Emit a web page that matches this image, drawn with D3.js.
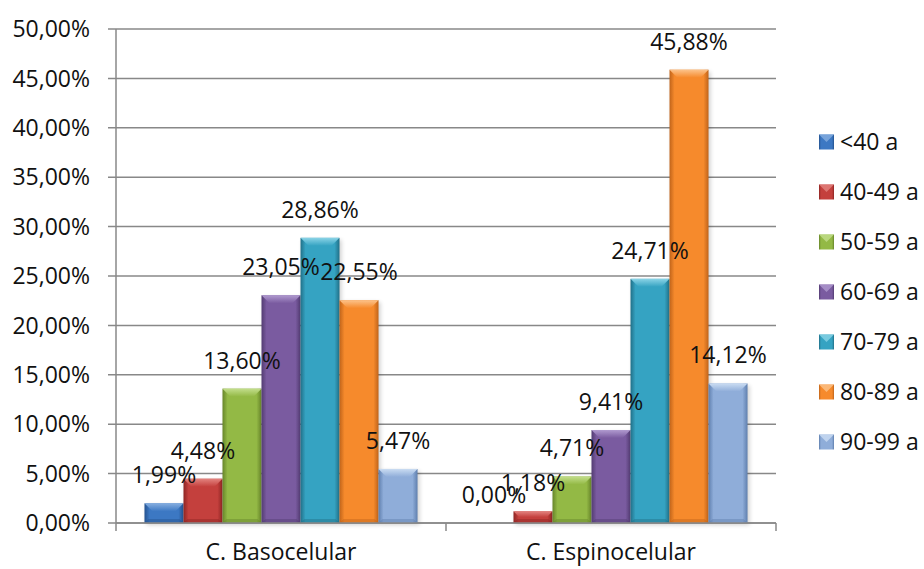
<!DOCTYPE html>
<html>
<head>
<meta charset="utf-8">
<script src="https://cdn.jsdelivr.net/npm/d3@7"></script>
<style>
  html, body { margin: 0; padding: 0; background: #fff; }
  svg { display: block; }
  text { font-family: "Open Sans", "DejaVu Sans", sans-serif; fill: #111; }
</style>
</head>
<body>
<svg id="chart" width="924" height="569"></svg>
<script>
// Tumour types on the category axis
const categories = ["C. Basocelular", "C. Espinocelular"];
// Age groups (one bar per group inside each category)
const ageGroups = ["<40 a", "40-49 a", "50-59 a", "60-69 a", "70-79 a", "80-89 a", "90-99 a"];
// Share of cases per age group, in percent
const basocelular    = [1.99, 4.48, 13.60, 23.05, 28.86, 22.55, 5.47];
const espinocelular  = [0.00, 1.18, 4.71, 9.41, 24.71, 45.88, 14.12];
// Value-axis ticks, in percent
const yTicks = [0, 5, 10, 15, 20, 25, 30, 35, 40, 45, 50];

// Fill palette per age group: edge shade, body, bevel highlight
const palette = [
  { dark: "#24528f", base: "#3c78c3", light: "#86aee0" },
  { dark: "#8e2523", base: "#c4403d", light: "#e3837f" },
  { dark: "#67852a", base: "#93b945", light: "#c3de8c" },
  { dark: "#533c72", base: "#7a5ba0", light: "#b09acf" },
  { dark: "#217088", base: "#35a3c2", light: "#8ad3e6" },
  { dark: "#c0641a", base: "#f68a2c", light: "#fcc38b" },
  { dark: "#5f7fae", base: "#8fadd9", light: "#cadcf2" }
];

const seriesByCategory = [basocelular, espinocelular];
const fmt = v => v.toFixed(2).replace(".", ",") + "%";

const svg = d3.select("#chart");
const defs = svg.append("defs");

const plot = { left: 116, right: 776, top: 29, bottom: 523 };

const y = d3.scaleLinear().domain([0, 50]).range([plot.bottom, plot.top]);
const x0 = d3.scaleBand().domain(categories).range([plot.left, plot.right]);
const x1 = d3.scaleBand().domain(ageGroups).range([0, x0.bandwidth()]).paddingOuter(0.73);

// Horizontal side-shading gradients for the bars
palette.forEach((p, i) => {
  const g = defs.append("linearGradient").attr("id", "bar" + i)
    .attr("x1", 0).attr("x2", 1).attr("y1", 0).attr("y2", 0);
  [[0, p.dark], [0.13, p.base], [0.5, p.base], [0.87, p.base], [1, p.dark]]
    .forEach(([o, c]) => g.append("stop").attr("offset", o).attr("stop-color", c));
  const t = defs.append("linearGradient").attr("id", "top" + i)
    .attr("x1", 0).attr("x2", 0).attr("y1", 0).attr("y2", 1);
  t.append("stop").attr("offset", 0).attr("stop-color", p.light);
  t.append("stop").attr("offset", 1).attr("stop-color", p.base);
});
const blur = defs.append("filter").attr("id", "shadow")
  .attr("x", "-20%").attr("y", "-20%").attr("width", "140%").attr("height", "140%");
blur.append("feGaussianBlur").attr("stdDeviation", 2);

// Gridlines + value axis
const grid = svg.append("g");
grid.selectAll("line").data(yTicks).join("line")
  .attr("x1", plot.left - 8).attr("x2", plot.right)
  .attr("y1", d => y(d)).attr("y2", d => y(d))
  .attr("stroke", "#888").attr("stroke-width", 1.5);

svg.append("g").selectAll("text").data(yTicks).join("text")
  .attr("x", 90).attr("y", d => y(d)).attr("dy", "0.36em")
  .attr("text-anchor", "end").attr("font-size", 23)
  .text(d => fmt(d));

// Bars
const groups = svg.append("g").selectAll("g").data(categories).join("g")
  .attr("transform", d => `translate(${x0(d)},0)`);

groups.each(function(cat, ci) {
  const g = d3.select(this);
  const vals = seriesByCategory[ci];
  ageGroups.forEach((ag, i) => {
    const v = vals[i];
    if (v <= 0) return;
    const bx = x1(ag), bw = x1.bandwidth();
    const top = y(v), h = plot.bottom - top;
    const bev = Math.min(8, h / 2);
    g.append("rect")
      .attr("x", bx + 2).attr("y", top + 2).attr("width", bw).attr("height", h)
      .attr("fill", "#000").attr("opacity", 0.18).attr("filter", "url(#shadow)");
    g.append("rect")
      .attr("x", bx).attr("y", top).attr("width", bw).attr("height", h)
      .attr("fill", `url(#bar${i})`);
    g.append("path")
      .attr("d", `M${bx},${top}L${bx + bw},${top}L${bx + bw - bev},${top + bev}L${bx + bev},${top + bev}Z`)
      .attr("fill", `url(#top${i})`);
    g.append("path")
      .attr("d", `M${bx},${plot.bottom}L${bx + bw},${plot.bottom}L${bx + bw - Math.min(4, h / 2)},${plot.bottom - Math.min(4, h / 2)}L${bx + Math.min(4, h / 2)},${plot.bottom - Math.min(4, h / 2)}Z`)
      .attr("fill", palette[i].dark).attr("opacity", 0.45);
  });
  // Value labels
  g.selectAll("text.val").data(vals).join("text")
    .attr("class", "val")
    .attr("x", (d, i) => x1(ageGroups[i]) + x1.bandwidth() / 2)
    .attr("y", d => y(d) - 20)
    .attr("text-anchor", "middle").attr("font-size", 23)
    .text(d => fmt(d));
});

// Axis lines and ticks
const axes = svg.append("g").attr("stroke", "#888").attr("stroke-width", 1.5);
axes.append("line").attr("x1", plot.left).attr("x2", plot.left)
  .attr("y1", plot.top).attr("y2", plot.bottom);
axes.append("line").attr("x1", plot.left).attr("x2", plot.right)
  .attr("y1", plot.bottom).attr("y2", plot.bottom);
const catEdges = [plot.left].concat(categories.map(c => x0(c) + x0.bandwidth()));
axes.selectAll("line.tick").data(catEdges).join("line")
  .attr("class", "tick")
  .attr("x1", d => d).attr("x2", d => d)
  .attr("y1", plot.bottom).attr("y2", plot.bottom + 8);

svg.append("g").selectAll("text").data(categories).join("text")
  .attr("x", d => x0(d) + x0.bandwidth() / 2).attr("y", 560)
  .attr("text-anchor", "middle").attr("font-size", 23)
  .text(d => d);

// Legend
const legend = svg.append("g").selectAll("g").data(ageGroups).join("g")
  .attr("transform", (d, i) => `translate(819,${142 + i * 50})`);
legend.append("rect")
  .attr("x", 0).attr("y", -7.5).attr("width", 15).attr("height", 15)
  .attr("fill", (d, i) => `url(#bar${i})`);
legend.append("path")
  .attr("d", "M0,-7.5L15,-7.5L7.5,0Z")
  .attr("fill", (d, i) => palette[i].light).attr("opacity", 0.8);
legend.append("text")
  .attr("x", 21).attr("y", 0).attr("dy", "0.36em").attr("font-size", 23)
  .text(d => d);
</script>
</body>
</html>
